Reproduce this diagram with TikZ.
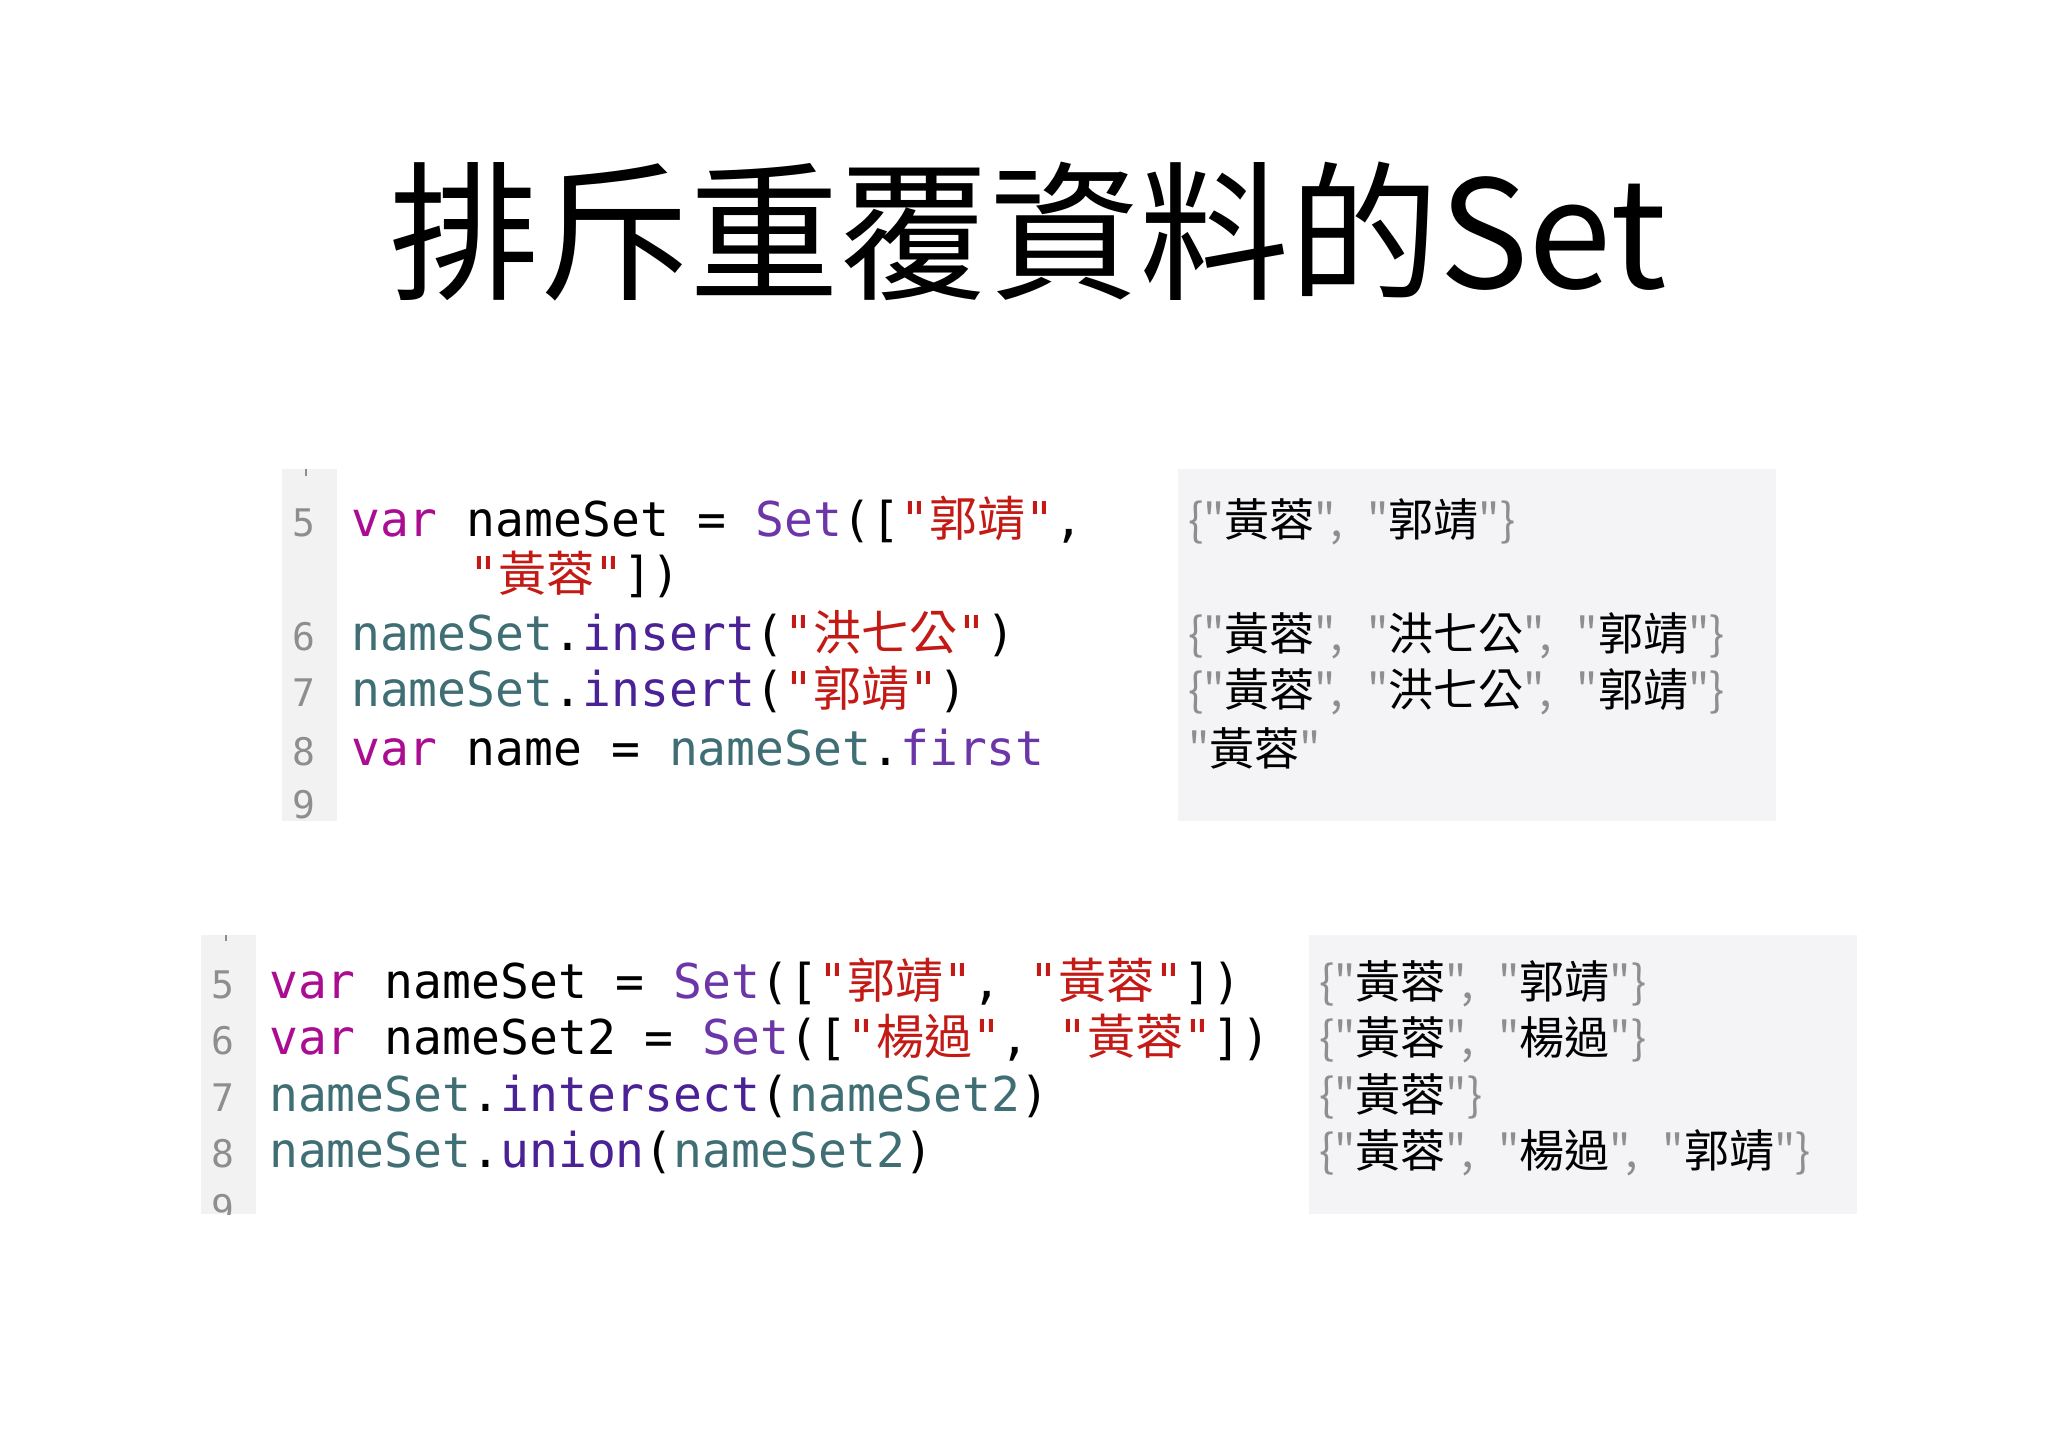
\documentclass[tikz,border=0pt]{standalone}
\usepackage{fontspec}
\setmainfont{Noto Sans CJK TC}
\newfontfamily\cjk{Noto Sans CJK TC}
\newfontfamily\mono{DejaVu Sans Mono}
\definecolor{kw}{HTML}{AA0D91}
\definecolor{cls}{HTML}{6C36A9}
\definecolor{strc}{HTML}{C41A16}
\definecolor{ident}{HTML}{3F6E74}
\definecolor{fn}{HTML}{4B2196}
\definecolor{gut}{HTML}{F2F2F2}
\definecolor{pan}{HTML}{F4F4F6}
\definecolor{lnum}{HTML}{8E8E8E}
\newcommand\kwv{\textcolor{kw}{var}}
\newcommand\sq[1]{\textcolor{strc}{"{\cjk #1}"}}
\newcommand\idn[1]{\textcolor{ident}{#1}}
\newcommand\fnn[1]{\textcolor{fn}{#1}}
\newcommand\gq[1]{\textcolor{lnum}{#1}}
\newcommand\sep{\gq{",\hspace{0.55em}"}}
\begin{document}
\begin{tikzpicture}[x=1pt,y=-1pt,
  code/.style={anchor=base west,inner sep=0pt,font=\mono\fontsize{48}{56}\selectfont},
  res/.style={anchor=base west,inner sep=0pt,font=\cjk\fontsize{45}{52}\selectfont},
  ln/.style={anchor=base,inner sep=0pt,text=lnum,font=\mono\fontsize{38}{44}\selectfont}]
\useasboundingbox (0,0) rectangle (2048,1447);
\fill[white] (0,0) rectangle (2048,1447);
\node[anchor=base,inner sep=0pt,font=\cjk\fontsize{150}{160}\selectfont] (title) at (1028,289) {排斥重覆資料的Set};
% top block
\fill[gut] (282,469) rectangle (337,821);
\fill[pan] (1178,469) rectangle (1776,821);
\draw[lnum,line width=2pt] (306,469) -- (306,476);
\node[ln] (a5) at (304,536) {5};
\node[ln] (a6) at (304,650) {6};
\node[ln] (a7) at (304,706) {7};
\node[ln] (a8) at (304,765) {8};
\node[ln] (a9) at (304,818) {9};
\node[code] (c1) at (351,536) {\kwv{} nameSet = \textcolor{cls}{Set}([\sq{郭靖},};
\node[code] (c1b) at (469,591) {\sq{黃蓉}])};
\node[code] (c2) at (351,650) {\idn{nameSet}.\fnn{insert}(\sq{洪七公})};
\node[code] (c3) at (351,706) {\idn{nameSet}.\fnn{insert}(\sq{郭靖})};
\node[code] (c4) at (351,765) {\kwv{} name = \idn{nameSet}.\textcolor{cls}{first}};
\node[res] (r1) at (1188,536) {\gq{\{"}黃蓉\sep 郭靖\gq{"\}}};
\node[res] (r2) at (1188,650) {\gq{\{"}黃蓉\sep 洪七公\sep 郭靖\gq{"\}}};
\node[res] (r3) at (1188,706) {\gq{\{"}黃蓉\sep 洪七公\sep 郭靖\gq{"\}}};
\node[res] (r4) at (1188,765) {\gq{"}黃蓉\gq{"}};
% bottom block
\fill[gut] (201,935) rectangle (256,1214);
\fill[pan] (1309,935) rectangle (1857,1214);
\draw[lnum,line width=2pt] (226,935) -- (226,941);
\node[ln] (b5) at (223,998) {5};
\node[ln] (b6) at (223,1054) {6};
\node[ln] (b7) at (223,1111) {7};
\node[ln] (b8) at (223,1167) {8};
\begin{scope}
\clip (150,1180) rectangle (300,1214);
\node[ln] (b9) at (223,1222) {9};
\end{scope}
\node[code] (d1) at (269,998) {\kwv{} nameSet = \textcolor{cls}{Set}([\sq{郭靖}, \sq{黃蓉}])};
\node[code] (d2) at (269,1054) {\kwv{} nameSet2 = \textcolor{cls}{Set}([\sq{楊過}, \sq{黃蓉}])};
\node[code] (d3) at (269,1111) {\idn{nameSet}.\fnn{intersect}(\idn{nameSet2})};
\node[code] (d4) at (269,1167) {\idn{nameSet}.\fnn{union}(\idn{nameSet2})};
\node[res] (s1) at (1319,998) {\gq{\{"}黃蓉\sep 郭靖\gq{"\}}};
\node[res] (s2) at (1319,1054) {\gq{\{"}黃蓉\sep 楊過\gq{"\}}};
\node[res] (s3) at (1319,1111) {\gq{\{"}黃蓉\gq{"\}}};
\node[res] (s4) at (1319,1167) {\gq{\{"}黃蓉\sep 楊過\sep 郭靖\gq{"\}}};
\end{tikzpicture}
\end{document}
